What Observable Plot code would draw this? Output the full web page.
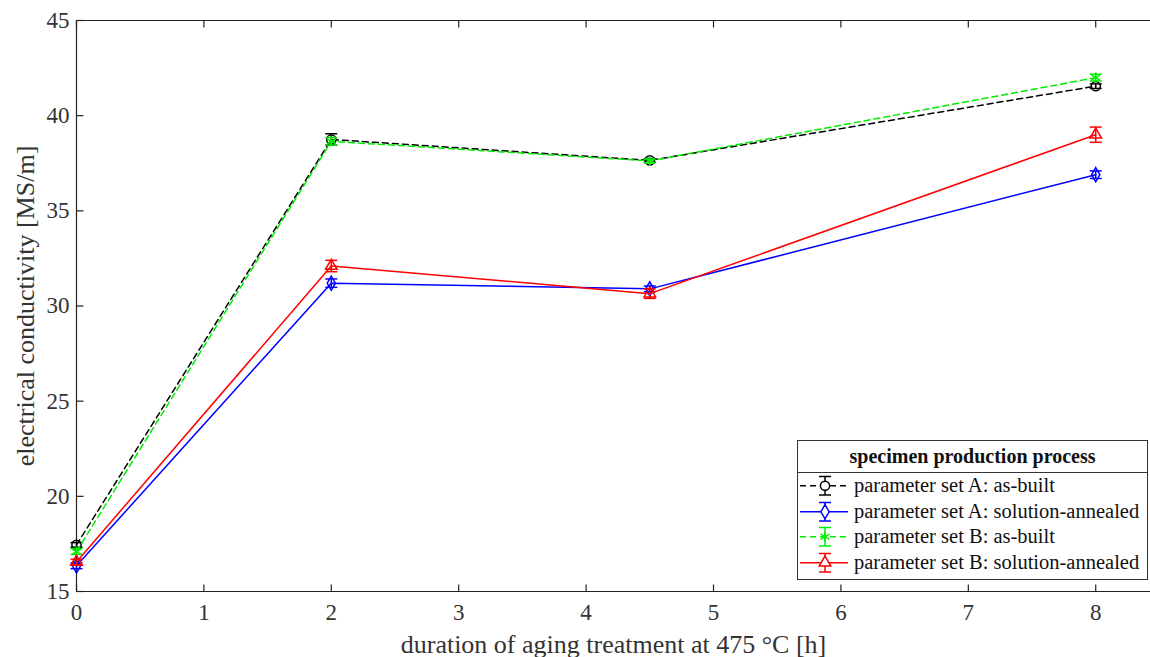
<!DOCTYPE html>
<html><head><meta charset="utf-8">
<script src="https://cdn.jsdelivr.net/npm/d3@7"></script>
<script src="https://cdn.jsdelivr.net/npm/@observablehq/plot@0.6"></script>
<style>
body{margin:0;background:#fff;}
#wrap{position:relative;width:1150px;height:657px;font-family:"Liberation Serif",serif;color:#111;}
#chart svg text{font-family:"Liberation Serif",serif;}
#legend{position:absolute;left:797px;top:440px;width:351px;height:140px;border:1px solid #333;background:#fff;box-sizing:border-box;}
#legend .title{height:31px;line-height:31px;text-align:center;font-weight:bold;font-size:20px;border-bottom:1px solid #333;}
#legend .row{height:25.5px;display:flex;align-items:center;font-size:20.5px;white-space:nowrap;}
#legend svg{flex:none;margin-right:2px;}
</style>
</head><body>
<div id="wrap"><div id="chart"></div><div id="legend"></div></div>
<script>
const durations = [0, 2, 4.5, 8];
const seriesNames = ["parameter set A: as-built", "parameter set A: solution-annealed", "parameter set B: as-built", "parameter set B: solution-annealed"];
const aAsBuilt = [17.45, 38.75, 37.65, 41.55];
const aAsBuiltErr = [0.12, 0.3, 0.1, 0.12];
const aAnnealed = [16.35, 31.2, 30.9, 36.9];
const aAnnealedErr = [0.15, 0.22, 0.15, 0.2];
const bAsBuilt = [17.1, 38.65, 37.62, 42.0];
const bAsBuiltErr = [0.15, 0.2, 0.1, 0.18];
const bAnnealed = [16.55, 32.1, 30.65, 39.0];
const bAnnealedErr = [0.15, 0.3, 0.25, 0.4];
const xTicks = [0, 1, 2, 3, 4, 5, 6, 7, 8];
const yTicks = [15, 20, 25, 30, 35, 40, 45];
const xLabel = "duration of aging treatment at 475 °C [h]";
const yLabel = "electrical conductivity [MS/m]";
const legendTitle = "specimen production process";

const colors = ["#000000", "#0000ff", "#00ee00", "#ff0000"];
const dashes = ["6,4", null, "6,4", null];
const symbols = ["circle", "diamond", "asterisk", "triangle"];
const radii = [4.6, 4.3, 4.8, 4.3];
const values = [aAsBuilt, aAnnealed, bAsBuilt, bAnnealed];
const errs = [aAsBuiltErr, aAnnealedErr, bAsBuiltErr, bAnnealedErr];

const rows = [];
values.forEach((vals, s) => vals.forEach((v, i) => rows.push({s, x: durations[i], y: v, lo: v - errs[s][i], hi: v + errs[s][i]})));

const FF = "Liberation Serif";
const capSym = {draw(ctx){ctx.moveTo(-6,0);ctx.lineTo(6,0);}};
const xTickUp = {draw(ctx){ctx.moveTo(0,0);ctx.lineTo(0,-7);}};
const xTickDown = {draw(ctx){ctx.moveTo(0,0);ctx.lineTo(0,7);}};
const yTickRight = {draw(ctx){ctx.moveTo(0,0);ctx.lineTo(7,0);}};

const marks = [
  Plot.ruleY([15, 45], {stroke: "#222", strokeWidth: 1.2}),
  Plot.ruleX([0], {stroke: "#222", strokeWidth: 1.2}),
  Plot.dot(xTicks, {x: d => d, y: () => 15, symbol: xTickUp, stroke: "#222", strokeWidth: 1.2}),
  Plot.dot(xTicks, {x: d => d, y: () => 45, symbol: xTickDown, stroke: "#222", strokeWidth: 1.2}),
  Plot.dot(yTicks, {x: () => 0, y: d => d, symbol: yTickRight, stroke: "#222", strokeWidth: 1.2}),
  Plot.axisX(xTicks, {tickSize: 0, tickPadding: 12, fontSize: 23, fontFamily: FF, fill: "#333", label: null, tickFormat: d3.format("d")}),
  Plot.axisY(yTicks, {tickSize: 0, tickPadding: 7, fontSize: 23, fontFamily: FF, fill: "#333", label: null, tickFormat: d3.format("d")}),
  Plot.text([xLabel], {frameAnchor: "bottom", dy: 61, fontSize: 26, fontFamily: FF, fill: "#333", lineAnchor: "bottom", textAnchor: "middle"}),
  Plot.text([yLabel], {frameAnchor: "left", dx: -51, rotate: -90, fontSize: 26, fontFamily: FF, fill: "#333", textAnchor: "middle"})
];
for (let s = 0; s < 4; s++) {
  const d = rows.filter(r => r.s === s);
  marks.push(Plot.line(d, {x: "x", y: "y", stroke: colors[s], strokeWidth: 1.5, strokeDasharray: dashes[s]}));
  marks.push(Plot.ruleX(d, {x: "x", y1: "lo", y2: "hi", stroke: colors[s], strokeWidth: 1.5}));
  marks.push(Plot.dot(d, {x: "x", y: "lo", symbol: capSym, stroke: colors[s], strokeWidth: 1.5}));
  marks.push(Plot.dot(d, {x: "x", y: "hi", symbol: capSym, stroke: colors[s], strokeWidth: 1.5}));
  marks.push(Plot.dot(d, {x: "x", y: "y", symbol: symbols[s], r: radii[s], stroke: colors[s], fill: "none", strokeWidth: 1.5}));
}

const chart = Plot.plot({
  width: 1150, height: 657,
  marginLeft: 76, marginRight: 0, marginTop: 20, marginBottom: 66,
  x: {domain: [0, 8.43]},
  y: {domain: [15, 45]},
  style: {fontFamily: FF, background: "#fff", overflow: "visible"},
  marks
});
document.getElementById("chart").appendChild(chart);

// legend
const leg = document.getElementById("legend");
const t = document.createElement("div"); t.className = "title"; t.textContent = legendTitle; leg.appendChild(t);
const symMap = {circle: d3.symbolCircle, diamond: d3.symbolDiamond, asterisk: d3.symbolAsterisk, triangle: d3.symbolTriangle};
seriesNames.forEach((name, s) => {
  const row = document.createElement("div"); row.className = "row";
  const svg = d3.create("svg").attr("width", 54).attr("height", 25.5);
  svg.append("line").attr("x1", 2).attr("x2", 50).attr("y1", 12.75).attr("y2", 12.75)
    .attr("stroke", colors[s]).attr("stroke-width", 1.5).attr("stroke-dasharray", dashes[s]);
  svg.append("line").attr("x1", 27).attr("x2", 27).attr("y1", 3.5).attr("y2", 22)
    .attr("stroke", colors[s]).attr("stroke-width", 1.5);
  svg.append("line").attr("x1", 21).attr("x2", 33).attr("y1", 3.5).attr("y2", 3.5).attr("stroke", colors[s]).attr("stroke-width", 1.5);
  svg.append("line").attr("x1", 21).attr("x2", 33).attr("y1", 22).attr("y2", 22).attr("stroke", colors[s]).attr("stroke-width", 1.5);
  svg.append("path").attr("transform", "translate(27,12.75)")
    .attr("d", d3.symbol(symMap[symbols[s]], Math.PI * radii[s] * radii[s])())
    .attr("fill", "#fff").attr("stroke", colors[s]).attr("stroke-width", 1.5);
  row.appendChild(svg.node());
  const span = document.createElement("span"); span.textContent = name; row.appendChild(span);
  leg.appendChild(row);
});
</script>
</body></html>
